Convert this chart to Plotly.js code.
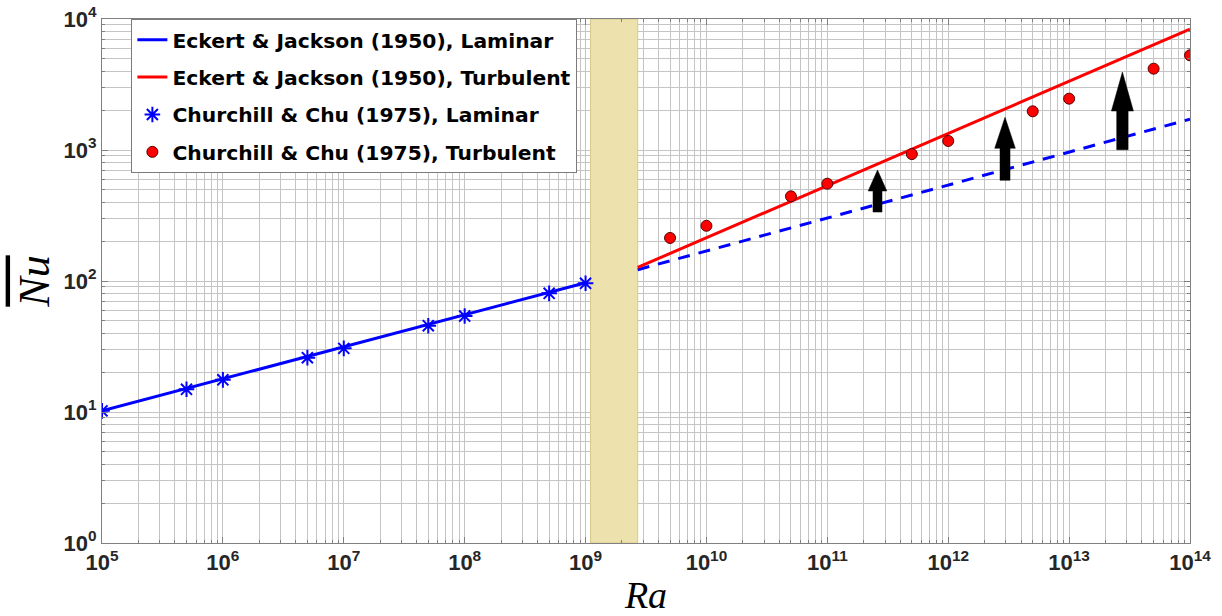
<!DOCTYPE html>
<html>
<head>
<meta charset="utf-8">
<script src="https://cdn.plot.ly/plotly-3.0.1.min.js"></script>
<style>
  html, body { margin: 0; padding: 0; background: #fff; }
  #chart { width: 1222px; height: 616px; }
</style>
</head>
<body>
<div id="chart"></div>
<script>
// ---------- data ----------
// Eckert & Jackson (1950) correlations (straight lines on log-log axes: endpoints)
const ejLaminarRa = [1e5, 1e9];
const ejLaminarNu = [10.2, 97];
const ejLaminarExtRa = [2.7e9, 1e14];       // dashed continuation
const ejLaminarExtNu = [122, 1720];
const ejTurbulentRa = [2.7e9, 1e14];
const ejTurbulentNu = [127, 8360];

// Churchill & Chu (1975) points
const ccLaminarRa = [1e5, 5e5, 1e6, 5e6, 1e7, 5e7, 1e8, 5e8, 1e9];
const ccLaminarNu = [10.2, 14.9, 17.6, 26.0, 30.6, 45.6, 54.0, 80.5, 96.0];
const ccTurbulentRa = [5e9, 1e10, 5e10, 1e11, 5e11, 1e12, 5e12, 1e13, 5e13, 1e14];
const ccTurbulentNu = [213, 264, 443, 553, 931, 1172, 1974, 2465, 4175, 5284];

// transition band
const bandRa = [1.1e9, 2.7e9];
const bandNu = [1, 1e4];

// arrows (Ra position, Nu from, Nu to)
const arrowRa = [2.6e11, 2.95e12, 2.76e13];
const arrowFrom = [336, 587, 1005];
const arrowTo = [704, 1777, 3939];

// tick labels
const xTickPowers = [5, 6, 7, 8, 9, 10, 11, 12, 13, 14];
const yTickPowers = [0, 1, 2, 3, 4];

// ---------- styling ----------
const arrowShaftHalfPx = [4.5, 5, 5.7];
const arrowHeadHalfPx = [9.3, 10.3, 11];
const arrowHeadLenPx = [21, 31, 39];

const W = 1222, H = 616;
const M = {l: 102, r: 32, t: 19, b: 73};
const pxPerDecX = (W - M.l - M.r) / (xTickPowers[xTickPowers.length - 1] - xTickPowers[0]);
const pxPerDecY = (H - M.t - M.b) / (yTickPowers[yTickPowers.length - 1] - yTickPowers[0]);

function logTicks(powers) {
  const vals = [], text = [], minor = [];
  for (let i = 0; i < powers.length; i++) {
    const p = powers[i];
    vals.push(Math.pow(10, p));
    text.push('<b>10<sup>' + p + '</sup></b>');
    if (i < powers.length - 1) {
      for (let m = 2; m <= 9; m++) minor.push(m * Math.pow(10, p));
    }
  }
  return {vals, text, minor};
}
const xt = logTicks(xTickPowers);
const yt = logTicks(yTickPowers);

const traces = [];

// band
traces.push({
  x: [bandRa[0], bandRa[1], bandRa[1], bandRa[0], bandRa[0]],
  y: [bandNu[0], bandNu[0], bandNu[1], bandNu[1], bandNu[0]],
  mode: 'lines', fill: 'toself', fillcolor: '#EDE1AD',
  line: {color: '#D8C98C', width: 1}, showlegend: false, hoverinfo: 'skip'
});

// dashed laminar extension
traces.push({
  x: ejLaminarExtRa, y: ejLaminarExtNu, mode: 'lines',
  line: {color: '#0000FF', width: 3, dash: '12px,9px'}, showlegend: false
});

traces.push({
  x: ejLaminarRa, y: ejLaminarNu, mode: 'lines', name: 'Eckert & Jackson (1950), Laminar',
  line: {color: '#0000FF', width: 3}, legendgroup: 'a'
});
traces.push({
  x: ejTurbulentRa, y: ejTurbulentNu, mode: 'lines', name: 'Eckert & Jackson (1950), Turbulent',
  line: {color: '#FF0000', width: 3}, legendgroup: 'b'
});
traces.push({
  x: ccLaminarRa, y: ccLaminarNu, mode: 'markers', name: 'Churchill & Chu (1975), Laminar',
  marker: {symbol: 'asterisk-open', size: 13, color: '#0000FF', line: {color: '#0000FF', width: 2}},
  legendgroup: 'c'
});
traces.push({
  x: ccTurbulentRa, y: ccTurbulentNu, mode: 'markers', name: 'Churchill & Chu (1975), Turbulent',
  marker: {symbol: 'circle', size: 11, color: '#FF0000', line: {color: '#5a0000', width: 1}},
  legendgroup: 'd'
});

// arrows as filled polygons
for (let i = 0; i < arrowRa.length; i++) {
  const x = arrowRa[i];
  const sw = Math.pow(10, arrowShaftHalfPx[i] / pxPerDecX);
  const hw = Math.pow(10, arrowHeadHalfPx[i] / pxPerDecX);
  const base = arrowTo[i] / Math.pow(10, arrowHeadLenPx[i] / pxPerDecY);
  traces.push({
    x: [x / sw, x * sw, x * sw, x * hw, x, x / hw, x / sw, x / sw],
    y: [arrowFrom[i], arrowFrom[i], base, base, arrowTo[i], base, base, arrowFrom[i]],
    mode: 'lines', fill: 'toself', fillcolor: '#000000',
    line: {color: '#000000', width: 0.5}, showlegend: false, hoverinfo: 'skip'
  });
}

const axisCommon = {
  type: 'log', showgrid: true, gridcolor: '#C4C4C4', gridwidth: 1,
  showline: true, linecolor: '#808080', linewidth: 1, mirror: 'ticks',
  ticks: 'inside', ticklen: 6, tickcolor: '#808080', zeroline: false,
  tickmode: 'array',
  tickfont: {family: 'Liberation Sans, Arial, sans-serif', size: 22, color: '#262626'}
};

const layout = {
  width: W, height: H,
  margin: M,
  paper_bgcolor: '#FFFFFF', plot_bgcolor: '#FFFFFF',
  showlegend: true,
  xaxis: Object.assign({}, axisCommon, {
    range: [xTickPowers[0], xTickPowers[xTickPowers.length - 1]],
    tickvals: xt.vals, ticktext: xt.text,
    minor: {tickmode: 'array', tickvals: xt.minor, showgrid: true, gridcolor: '#C4C4C4',
      gridwidth: 1, ticks: 'inside', ticklen: 3, tickcolor: '#808080'},
    title: {text: '<i>Ra</i>', standoff: 6,
      font: {family: 'Liberation Serif, Times New Roman, serif', size: 38, color: '#000'}}
  }),
  yaxis: Object.assign({}, axisCommon, {
    range: [yTickPowers[0], yTickPowers[yTickPowers.length - 1]],
    tickvals: yt.vals, ticktext: yt.text,
    minor: {tickmode: 'array', tickvals: yt.minor, showgrid: true, gridcolor: '#C4C4C4',
      gridwidth: 1, ticks: 'inside', ticklen: 3, tickcolor: '#808080'},
    title: {text: '<span style="text-decoration:overline"><i>Nu</i></span>', standoff: 0,
      font: {family: 'Liberation Serif, Times New Roman, serif', size: 44, color: '#000'}}
  }),
  legend: {
    x: 0.027, y: 1, xanchor: 'left', yanchor: 'top',
    bgcolor: '#FFFFFF', bordercolor: '#7a7a7a', borderwidth: 1,
    traceorder: 'grouped', tracegroupgap: 8,
    font: {family: 'DejaVu Sans, sans-serif', size: 20.3, color: '#000', weight: 'bold'}
  }
};

Plotly.newPlot('chart', traces, layout, {displayModeBar: false, staticPlot: true});
</script>
</body>
</html>
